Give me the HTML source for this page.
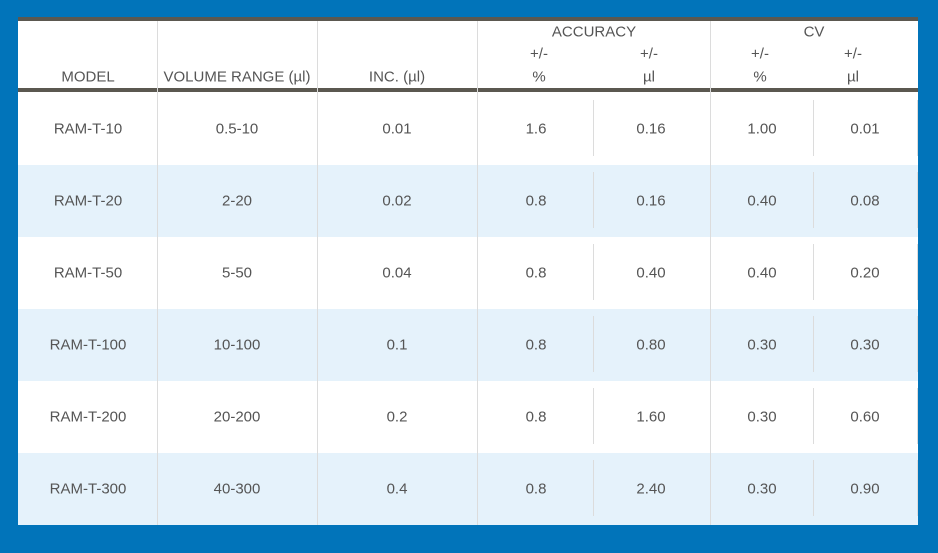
<!DOCTYPE html>
<html><head><style>
body{margin:0;width:938px;height:553px;background:#0174ba;position:relative;overflow:hidden;font-family:"Liberation Sans",sans-serif;color:#555;font-size:15px}
.a{position:absolute}
.t{position:absolute;transform:translate(-50%,-50%);white-space:nowrap}
.v{position:absolute;width:1px;background:#dcdcdc}
</style></head><body>
<div class="a" style="left:18px;top:17px;width:900px;height:508px;background:#fff"></div>
<div class="a" style="left:18px;top:17px;width:900px;height:4px;background:#5b5850"></div>
<div class="a" style="left:18px;top:88px;width:900px;height:4px;background:#5b5850"></div>
<div class="a" style="left:18px;top:165px;width:900px;height:72px;background:#e5f2fb"></div>
<div class="a" style="left:18px;top:309px;width:900px;height:72px;background:#e5f2fb"></div>
<div class="a" style="left:18px;top:453px;width:900px;height:72px;background:#e5f2fb"></div>
<div class="v" style="left:157px;top:21px;height:504px"></div>
<div class="v" style="left:317px;top:21px;height:504px"></div>
<div class="v" style="left:477px;top:21px;height:504px"></div>
<div class="v" style="left:710px;top:21px;height:504px"></div>
<div class="t" style="left:88px;top:77px">MODEL</div>
<div class="t" style="left:237px;top:77px">VOLUME RANGE (µl)</div>
<div class="t" style="left:397px;top:77px">INC. (µl)</div>
<div class="t" style="left:594px;top:32px">ACCURACY</div>
<div class="t" style="left:814px;top:32px">CV</div>
<div class="t" style="left:539px;top:54px">+/-</div>
<div class="t" style="left:649px;top:54px">+/-</div>
<div class="t" style="left:760px;top:54px">+/-</div>
<div class="t" style="left:853px;top:54px">+/-</div>
<div class="t" style="left:539px;top:77px">%</div>
<div class="t" style="left:649px;top:77px">µl</div>
<div class="t" style="left:760px;top:77px">%</div>
<div class="t" style="left:853px;top:77px">µl</div>
<div id="rows"></div>
<script>
var d=[["RAM-T-10","0.5-10","0.01","1.6","0.16","1.00","0.01"],["RAM-T-20","2-20","0.02","0.8","0.16","0.40","0.08"],["RAM-T-50","5-50","0.04","0.8","0.40","0.40","0.20"],["RAM-T-100","10-100","0.1","0.8","0.80","0.30","0.30"],["RAM-T-200","20-200","0.2","0.8","1.60","0.30","0.60"],["RAM-T-300","40-300","0.4","0.8","2.40","0.30","0.90"]];
var xs=[88,237,397,536,651,762,865],h="";
for(var i=0;i<6;i++){var y=129+i*72;
for(var j=0;j<7;j++)h+='<div class="t" style="left:'+xs[j]+'px;top:'+y+'px">'+d[i][j]+'</div>';
[593,813,917].forEach(function(x){h+='<div class="v" style="left:'+x+'px;top:'+(y-29)+'px;height:56px"></div>'});}
document.getElementById("rows").innerHTML=h;
</script>
</body></html>
